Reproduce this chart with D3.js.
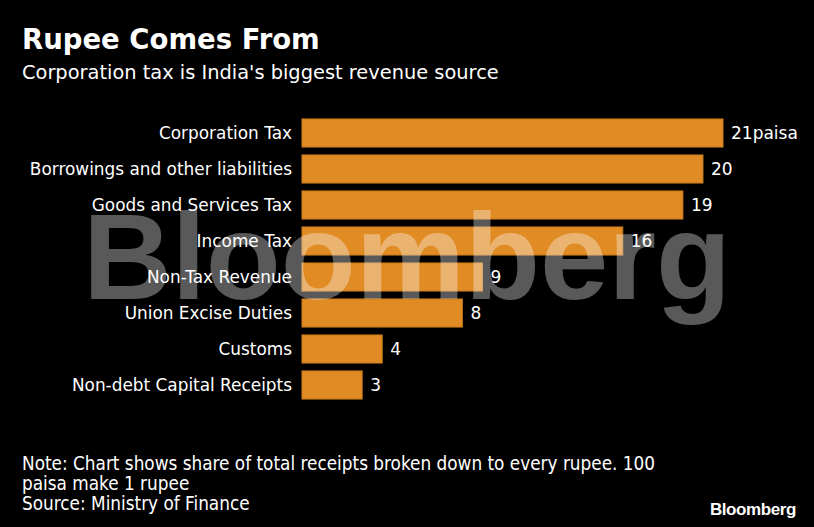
<!DOCTYPE html>
<html>
<head>
<meta charset="utf-8">
<script src="https://cdn.jsdelivr.net/npm/d3@7"></script>
<style>
  html, body { margin: 0; padding: 0; background: #000; }
  svg { display: block; }
</style>
</head>
<body>
<div id="chart_holder"><svg></svg></div>
<script>
let categories = ["Corporation Tax", "Borrowings and other liabilities", "Goods and Services Tax",
    "Income Tax", "Non-Tax Revenue", "Union Excise Duties", "Customs", "Non-debt Capital Receipts"]
let values = [21, 20, 19, 16, 9, 8, 4, 3]
let value_labels = ["21paisa", "20", "19", "16", "9", "8", "4", "3"]
let note_lines = ["Note: Chart shows share of total receipts broken down to every rupee. 100",
    "paisa make 1 rupee", "Source: Ministry of Finance"]

let width = 814
let height = 527
let margin = {top: 115, left: 302}

let svg = d3.select('#chart_holder svg')
    .attr('width', width)
    .attr('height', height)

svg.append('rect').attr('width', width).attr('height', height).attr('fill', '#000')

svg.append('text')
    .attr('x', 22).attr('y', 49)
    .attr('fill', '#fff')
    .style('font', 'bold 27.5px "DejaVu Sans"')
    .text('Rupee Comes From')

svg.append('text')
    .attr('x', 22).attr('y', 79)
    .attr('fill', '#fff')
    .style('font', '19.4px "DejaVu Sans"')
    .text("Corporation tax is India's biggest revenue source")

let x = d3.scaleLinear().domain([0, 21]).range([0, 421])
let y = d3.scaleBand().domain(categories).range([0, 288]).paddingInner(0.22).paddingOuter(0.11)

let g = svg.append('g').attr('transform', `translate(${margin.left},${margin.top})`)

g.selectAll('rect.bar')
    .data(values)
    .join('rect')
        .attr('class', 'bar')
        .attr('x', 0)
        .attr('y', (d, i) => y(categories[i]))
        .attr('width', d => x(d))
        .attr('height', y.bandwidth())
        .attr('fill', '#e08b24')
        .attr('stroke', '#c97a1c')
        .attr('stroke-width', 1)

// watermark
svg.append('text')
    .attr('x', 407).attr('y', 299)
    .attr('text-anchor', 'middle')
    .attr('fill', '#fff')
    .attr('fill-opacity', 0.35)
    .style('font', 'bold 122px "Liberation Sans"')
    .attr('textLength', 648)
    .attr('lengthAdjust', 'spacingAndGlyphs')
    .text('Bloomberg')

g.selectAll('text.cat')
    .data(categories)
    .join('text')
        .attr('class', 'cat')
        .attr('x', -10)
        .attr('y', d => y(d) + y.bandwidth() / 2)
        .attr('dy', '0.35em')
        .attr('text-anchor', 'end')
        .attr('fill', '#fff')
        .style('font', '16.9px "DejaVu Sans"')
        .text(d => d)

g.selectAll('text.val')
    .data(values)
    .join('text')
        .attr('class', 'val')
        .attr('x', d => x(d) + 8)
        .attr('y', (d, i) => y(categories[i]) + y.bandwidth() / 2)
        .attr('dy', '0.35em')
        .attr('fill', '#fff')
        .style('font', '17px "DejaVu Sans"')
        .text((d, i) => value_labels[i])

svg.selectAll('text.note')
    .data(note_lines)
    .join('text')
        .attr('class', 'note')
        .attr('x', 22)
        .attr('y', (d, i) => 470 + i * 20)
        .attr('fill', '#fff')
        .style('font', '18.8px "DejaVu Sans Condensed", "DejaVu Sans"')
        .style('font-stretch', 'condensed')
        .text(d => d)

svg.append('text')
    .attr('x', 796).attr('y', 515)
    .attr('text-anchor', 'end')
    .attr('fill', '#fff')
    .style('font', 'bold 17px "Liberation Sans Narrow", "Liberation Sans"')
    .style('letter-spacing', '-0.4px')
    .text('Bloomberg')
</script>
</body>
</html>
